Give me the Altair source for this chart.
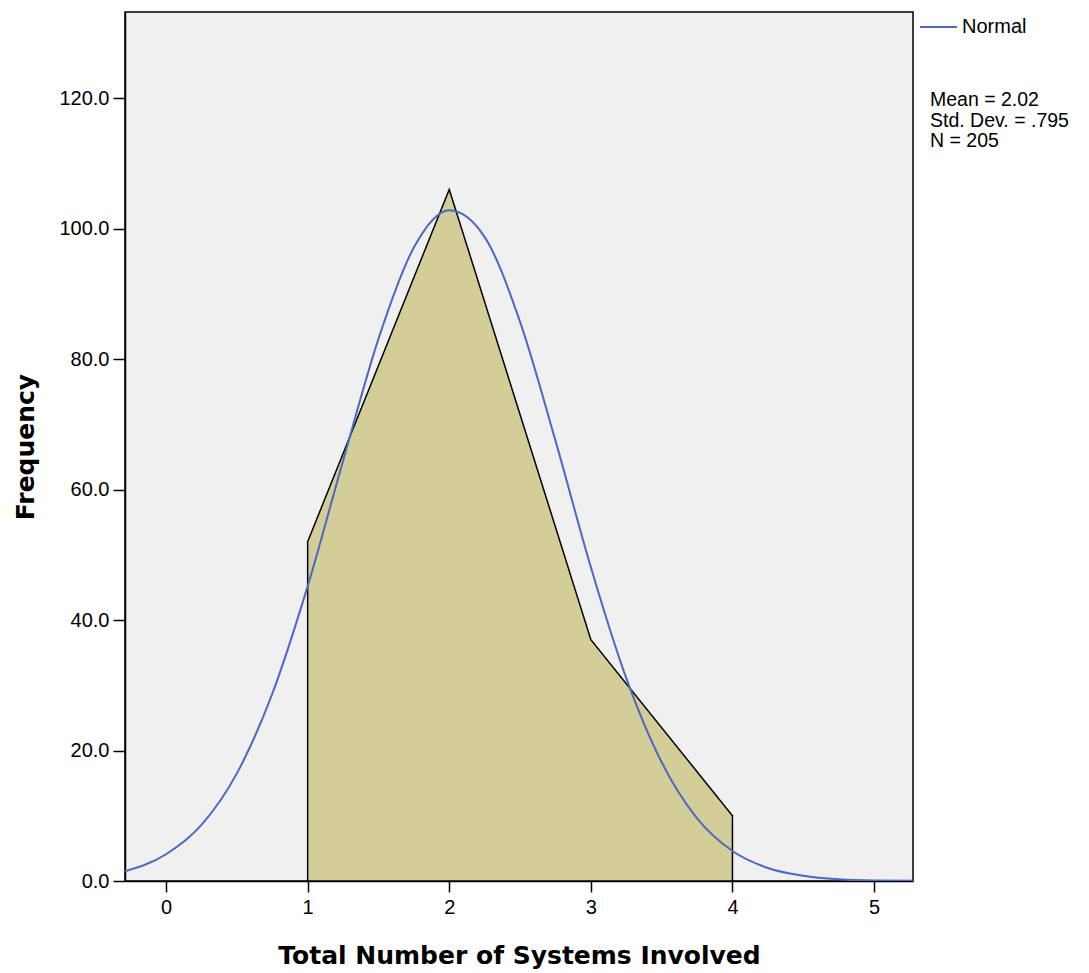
import altair as alt
import pandas as pd

# Histogram (frequency polygon) values
categories = [1, 2, 3, 4]
frequencies = [52, 106, 37, 10]

# Normal curve
curve_x = [-0.29, 0.0, 0.25, 0.5, 0.75, 1.0, 1.25, 1.5, 1.75, 2.0, 2.25, 2.5,
           2.75, 3.0, 3.25, 3.5, 3.75, 4.0, 4.25, 4.5, 4.75, 5.0, 5.275]
curve_y = [1.5, 4.1, 8.6, 16.5, 28.7, 45.2, 64.4, 83.1, 97.1, 102.8, 98.7, 85.7,
           67.5, 48.1, 31.1, 18.2, 9.6, 4.6, 2.0, 0.8, 0.25, 0.06, 0.02]

x_ticks = [0, 1, 2, 3, 4, 5]
y_ticks = [0, 20, 40, 60, 80, 100, 120]

stats_lines = ["Mean = 2.02", "Std. Dev. = .795", "N = 205"]
legend_label = "Normal"

poly = pd.DataFrame({"x": categories, "y": frequencies})
curve = pd.DataFrame({"x": curve_x, "y": curve_y})

xscale = alt.Scale(domain=[-0.29, 5.275], nice=False, zero=False)
yscale = alt.Scale(domain=[0, 133.2], nice=False)

xaxis = alt.Axis(values=x_ticks, format="d", title="Total Number of Systems Involved",
                 grid=False, tickSize=11, labelPadding=5, titlePadding=26)
yaxis = alt.Axis(values=y_ticks, format=".1f", title="Frequency",
                 grid=False, tickSize=12, labelPadding=4, titlePadding=20)

area = alt.Chart(poly).mark_area(
    fill="#D3CE97", stroke="black", strokeWidth=1.5, fillOpacity=1
).encode(
    x=alt.X("x:Q", scale=xscale, axis=xaxis),
    y=alt.Y("y:Q", scale=yscale, axis=yaxis),
)

line = alt.Chart(curve).mark_line(
    color="#4B68C4", strokeWidth=2, interpolate="monotone", clip=True
).encode(
    x=alt.X("x:Q", scale=xscale),
    y=alt.Y("y:Q", scale=yscale),
)

one = alt.Data(values=[{}])

leg_rule = alt.Chart(one).mark_rule(color="#4B68C4", strokeWidth=2).encode(
    x=alt.value(795), x2=alt.value(832), y=alt.value(15)
)
leg_text = alt.Chart(one).mark_text(
    text=legend_label, align="left", baseline="middle", fontSize=20,
    font="Liberation Sans", color="black"
).encode(x=alt.value(837), y=alt.value(15))

stats = alt.Chart(one).mark_text(
    text=stats_lines, align="left", baseline="alphabetic", fontSize=19.5,
    lineHeight=20.5, font="Liberation Sans", color="black"
).encode(x=alt.value(805), y=alt.value(94))

chart = alt.layer(area, line, leg_rule, leg_text, stats).properties(
    width=788, height=869,
    padding={"left": 5, "top": 4, "right": 0, "bottom": 2},
    background="white",
).configure_view(
    fill="#F0F0F0", stroke="black", strokeWidth=1.5
).configure_axis(
    labelFont="Liberation Sans", labelFontSize=20, labelColor="black",
    titleFont="DejaVu Sans", titleFontSize=25, titleFontWeight="bold", titleColor="black",
    domainColor="black", domainWidth=1.5, tickColor="black", tickWidth=1.5,
)

chart.save("out.html", embed_options={"renderer": "svg", "actions": False})
